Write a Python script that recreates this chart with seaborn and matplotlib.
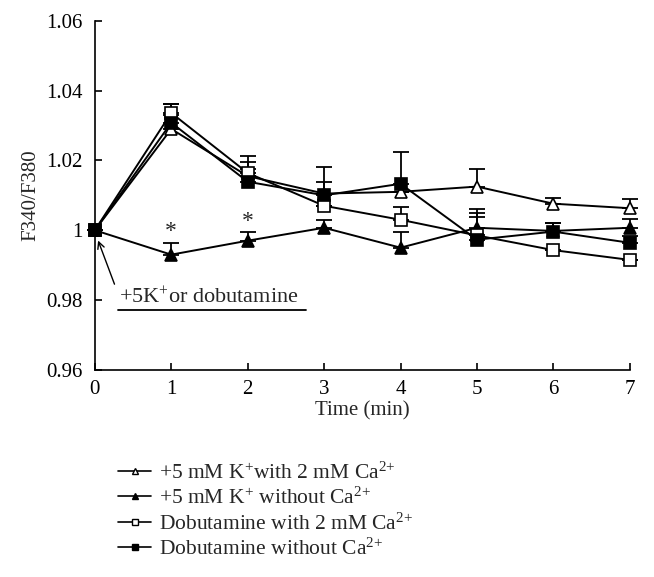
import matplotlib
matplotlib.use("Agg")
import matplotlib.pyplot as plt
import seaborn as sns
import pandas as pd
import numpy as np

sns.set_theme(style="ticks")
plt.rcParams['font.family'] = ['Liberation Serif', 'DejaVu Serif']
plt.rcParams['mathtext.fontset'] = 'custom'
plt.rcParams['mathtext.rm'] = 'Liberation Serif'
plt.rcParams['mathtext.it'] = 'Liberation Serif:italic'
plt.rcParams['mathtext.bf'] = 'Liberation Serif:bold'

time = [0, 1, 2, 3, 4, 5, 6, 7]
k_with_ca = [1.0, 1.029, 1.0155, 1.0105, 1.011, 1.0125, 1.0076, 1.0063]
k_with_ca_err = [0, 0.004, 0.002, 0.0034, 0, 0.005, 0.0015, 0.0027]
k_without_ca = [1.0, 0.993, 0.997, 1.0007, 0.995, 1.0007, 0.9998, 1.0007]
k_without_ca_err = [0, 0.0034, 0.0025, 0.0023, 0.0046, 0.0032, 0.0022, 0.0026]
dob_with_ca = [1.0, 1.0336, 1.0164, 1.007, 1.003, 0.9985, 0.9943, 0.9915]
dob_with_ca_err = [0, 0.0026, 0.0032, 0, 0.0037, 0.0076, 0, 0]
dob_without_ca = [1.0, 1.0308, 1.0139, 1.010, 1.0133, 0.9973, 0.9996, 0.9964]
dob_without_ca_err = [0, 0.0054, 0.0074, 0.008, 0.009, 0.0077, 0.0025, 0.002]

labels = [r"+5 mM K$^{{+}}$with 2 mM Ca$^{2{+}}$",
          r"+5 mM K$^{{+}}$ without Ca$^{2{+}}$",
          r"Dobutamine with 2 mM Ca$^{2{+}}$",
          r"Dobutamine without Ca$^{2{+}}$"]
series = [(k_with_ca, k_with_ca_err, '^', 'white'),
          (k_without_ca, k_without_ca_err, '^', 'black'),
          (dob_with_ca, dob_with_ca_err, 's', 'white'),
          (dob_without_ca, dob_without_ca_err, 's', 'black')]

fig = plt.figure(figsize=(6.54, 5.77), dpi=100)
ax = fig.add_axes([0.145, 0.359, 0.818, 0.605])

handles = []
for (vals, errs, mk, fc), lab in zip(series, labels):
    df = pd.DataFrame({'t': time, 'v': vals})
    eb = ax.errorbar(time, vals, yerr=[np.zeros(len(errs)), errs], fmt='none',
                     ecolor='black', elinewidth=1.3, capsize=6, capthick=1.3, zorder=2)
    for art in eb.lines[1] + eb.lines[2]:
        art.set_clip_on(False)
    sns.lineplot(data=df, x='t', y='v', ax=ax, color='black', linewidth=1.4,
                 marker=mk, markersize=9, markerfacecolor=fc, markeredgecolor='black',
                 markeredgewidth=1.2, zorder=3, clip_on=False)
    h, = ax.plot([], [], color='black', linewidth=1.2, marker=mk, markersize=4.5,
                 markerfacecolor=fc, markeredgecolor='black', markeredgewidth=1.0)
    handles.append(h)

ax.set_xlim(0, 7)
ax.set_ylim(0.96, 1.06)
ax.set_xticks(time)
ax.set_xticklabels([str(t) for t in time])
yt = [0.96, 0.98, 1.0, 1.02, 1.04, 1.06]
ax.set_yticks(yt)
ax.set_yticklabels(["0.96", "0.98", "1", "1.02", "1.04", "1.06"])
ax.tick_params(direction='in', length=5, width=1.2, labelsize=15, colors='black')
ax.tick_params(axis='x', pad=7)
ax.tick_params(axis='y', pad=9)
for s in ['top', 'right']:
    ax.spines[s].set_visible(False)
for s in ['left', 'bottom']:
    ax.spines[s].set_linewidth(1.2)
    ax.spines[s].set_color('black')
ax.set_xlabel("Time (min)", fontsize=15, labelpad=2)
ax.set_ylabel("F340/F380", fontsize=15, labelpad=4)

ax.text(1, 0.9966, "*", ha='center', va='bottom', fontsize=17)
ax.text(2, 0.9996, "*", ha='center', va='bottom', fontsize=17)

ax.annotate("", xy=(0.03, 0.9978), xytext=(0.27, 0.9838),
            arrowprops=dict(arrowstyle='->', color='black', lw=1.0))
ax.text(0.32, 0.9775, r"+5K$^{{+}}$or dobutamine", fontsize=16, ha='left', va='bottom')
ax.plot([0.3, 2.76], [0.9772, 0.9772], color='black', lw=1.3, clip_on=False)

fig.legend(handles, labels, loc='upper left', bbox_to_anchor=(0.168, 0.214),
           frameon=False, fontsize=15.5, handlelength=1.5, handletextpad=0.4,
           labelspacing=0.2, borderaxespad=0)

fig.savefig("out.png", dpi=100)
